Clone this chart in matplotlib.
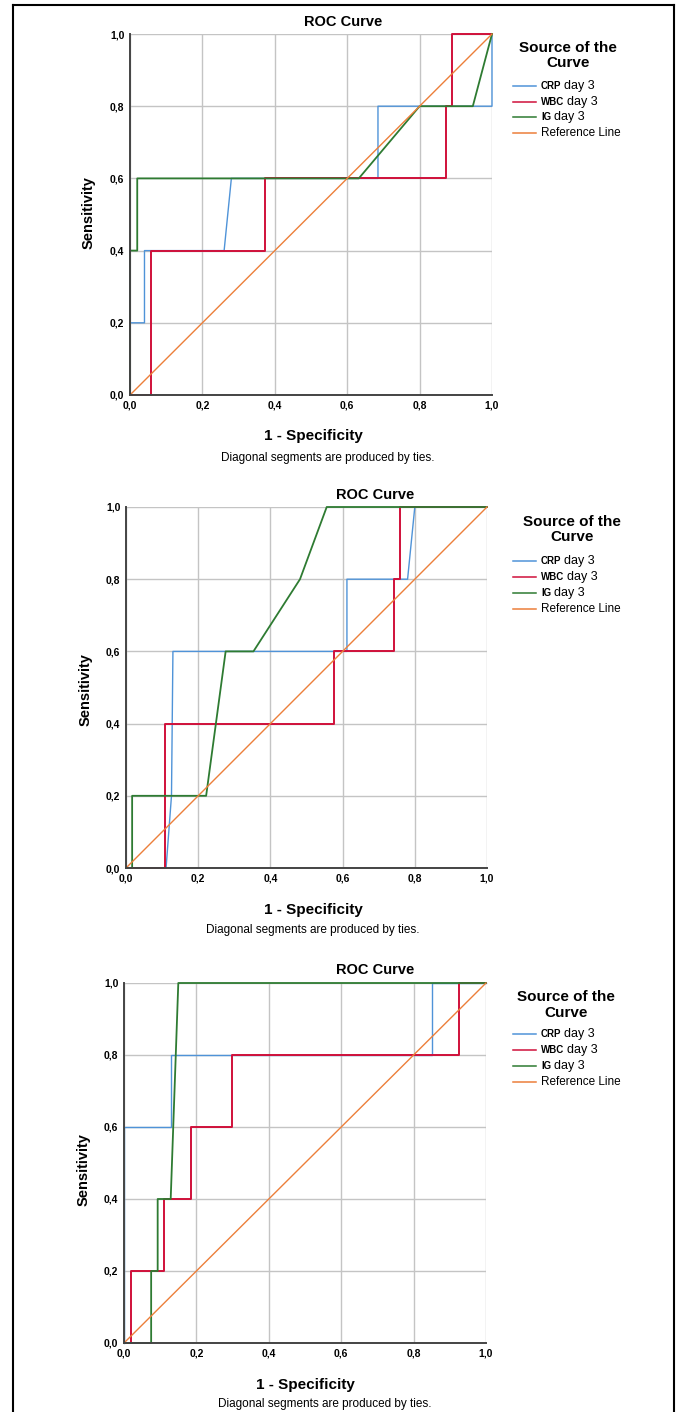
import matplotlib
matplotlib.use('Agg')
import matplotlib.pyplot as plt
from matplotlib.lines import Line2D

plt.rcParams['font.family'] = ['Liberation Sans Narrow', 'Liberation Sans', 'DejaVu Sans']

# 資料 (1 - Specificity, Sensitivity)
crp1_x = [0, 0, 0.04, 0.04, 0.26, 0.28, 0.685, 0.685, 1.0, 1.0]
crp1_y = [0, 0.2, 0.2, 0.4, 0.4, 0.6, 0.6, 0.8, 0.8, 1.0]
wbc1_x = [0, 0.057, 0.057, 0.372, 0.372, 0.872, 0.872, 0.889, 0.889, 1.0]
wbc1_y = [0, 0, 0.4, 0.4, 0.6, 0.6, 0.8, 0.8, 1.0, 1.0]
ig1_x = [0, 0, 0.02, 0.02, 0.632, 0.8, 0.947, 1.0]
ig1_y = [0, 0.4, 0.4, 0.6, 0.6, 0.8, 0.8, 1.0]

crp2_x = [0, 0.111, 0.126, 0.13, 0.612, 0.612, 0.78, 0.80, 1.0]
crp2_y = [0, 0, 0.2, 0.6, 0.6, 0.8, 0.8, 1.0, 1.0]
wbc2_x = [0, 0.109, 0.109, 0.575, 0.575, 0.743, 0.743, 0.76, 0.76, 1.0]
wbc2_y = [0, 0, 0.4, 0.4, 0.6, 0.6, 0.8, 0.8, 1.0, 1.0]
ig2_x = [0, 0.017, 0.017, 0.222, 0.276, 0.353, 0.482, 0.556, 1.0]
ig2_y = [0, 0, 0.2, 0.2, 0.6, 0.6, 0.8, 1.0, 1.0]

crp3_x = [0, 0, 0.13, 0.13, 0.852, 0.852, 1.0]
crp3_y = [0, 0.6, 0.6, 0.8, 0.8, 1.0, 1.0]
wbc3_x = [0, 0.019, 0.019, 0.111, 0.111, 0.185, 0.185, 0.297, 0.297, 0.926, 0.926, 1.0]
wbc3_y = [0, 0, 0.2, 0.2, 0.4, 0.4, 0.6, 0.6, 0.8, 0.8, 1.0, 1.0]
ig3_x = [0, 0.075, 0.075, 0.093, 0.093, 0.129, 0.15, 1.0]
ig3_y = [0, 0, 0.2, 0.2, 0.4, 0.4, 1.0, 1.0]

ref_x = [0, 1]
ref_y = [0, 1]

ticks = [0, 0.2, 0.4, 0.6, 0.8, 1.0]
tick_labels = ['0,0', '0,2', '0,4', '0,6', '0,8', '1,0']

legend_names = ['CRP', 'WBC', 'IG']
legend_suffix = 'day 3'

colors = {'CRP': '#4f93d8', 'WBC': '#d0103a', 'IG': '#2e7b32', 'ref': '#ec7f3a'}

W, H = 680, 1412
fig = plt.figure(figsize=(W / 100, H / 100), dpi=100)


def fx(px):
    return px / W


def fy(py):
    return 1 - py / H


# 每個面板的像素位置: 軸框, 標題, 標籤, 圖例
panels = [
    dict(box=(130, 34, 492, 395), title=(343, 22), ylab=(89, 213), xlab=(313, 436), note=(328, 458),
         head=(568, 48, 63), items=[86, 102, 117, 133],
         data=[(crp1_x, crp1_y), (wbc1_x, wbc1_y), (ig1_x, ig1_y)]),
    dict(box=(126, 507, 487, 868), title=(375, 495), ylab=(86, 690), xlab=(313, 910), note=(313, 930),
         head=(572, 522, 537), items=[561, 577, 593, 609],
         data=[(crp2_x, crp2_y), (wbc2_x, wbc2_y), (ig2_x, ig2_y)]),
    dict(box=(124, 983, 486, 1343), title=(375, 970), ylab=(84, 1170), xlab=(305, 1385), note=(325, 1404),
         head=(566, 997, 1013), items=[1034, 1050, 1066, 1082],
         data=[(crp3_x, crp3_y), (wbc3_x, wbc3_y), (ig3_x, ig3_y)]),
]

for p in panels:
    x0, y0, x1, y1 = p['box']
    ax = fig.add_axes([fx(x0), fy(y1), (x1 - x0) / W, (y1 - y0) / H])
    ax.set_xlim(0, 1)
    ax.set_ylim(0, 1)
    ax.set_xticks(ticks)
    ax.set_yticks(ticks)
    ax.set_xticklabels(tick_labels, fontsize=7.5, fontweight='bold')
    ax.set_yticklabels(tick_labels, fontsize=7.5, fontweight='bold')
    ax.tick_params(length=0, pad=4)
    ax.grid(color='#c4c4c4', linewidth=1.0)
    ax.set_axisbelow(True)
    for s in ['top', 'right']:
        ax.spines[s].set_visible(False)
    for s in ['left', 'bottom']:
        ax.spines[s].set_color('#444444')
        ax.spines[s].set_linewidth(1.4)

    (cx, cy), (wx, wy), (gx, gy) = p['data']
    ax.plot(cx, cy, color=colors['CRP'], lw=1.0, clip_on=False)
    ax.plot(wx, wy, color=colors['WBC'], lw=1.4, clip_on=False)
    ax.plot(gx, gy, color=colors['IG'], lw=1.3, clip_on=False)
    ax.plot(ref_x, ref_y, color=colors['ref'], lw=1.0, clip_on=False)

    fig.text(fx(p['title'][0]), fy(p['title'][1]), 'ROC Curve', fontsize=10.5, fontweight='bold',
             ha='center', va='center')
    fig.text(fx(p['ylab'][0]), fy(p['ylab'][1]), 'Sensitivity', fontsize=10.5, fontweight='bold',
             ha='center', va='center', rotation=90)
    fig.text(fx(p['xlab'][0]), fy(p['xlab'][1]), '1 - Specificity', fontsize=11, fontweight='bold',
             ha='center', va='center')
    fig.text(fx(p['note'][0]), fy(p['note'][1]), 'Diagonal segments are produced by ties.', fontsize=8.5,
             ha='center', va='center')

    # 圖例
    hx, hy1, hy2 = p['head']
    fig.text(fx(hx), fy(hy1), 'Source of the', fontsize=11, fontweight='bold', ha='center', va='center')
    fig.text(fx(hx), fy(hy2), 'Curve', fontsize=11, fontweight='bold', ha='center', va='center')
    keys = legend_names + ['ref']
    for k, iy in zip(keys, p['items']):
        fig.add_artist(Line2D([fx(513), fx(536)], [fy(iy), fy(iy)], color=colors[k], lw=1.1))
        if k == 'ref':
            fig.text(fx(541), fy(iy), 'Reference Line', fontsize=8.5, va='center')
        else:
            t = fig.text(fx(541), fy(iy), k, fontsize=7, fontweight='bold', va='center')
            plt.annotate(legend_suffix, xy=(1, 0.5), xycoords=t, xytext=(2, 0), textcoords='offset points',
                         fontsize=9, va='center')

# 外框
fig.add_artist(Line2D([fx(13), fx(13)], [0, fy(5)], color='black', lw=1.5))
fig.add_artist(Line2D([fx(13), fx(674)], [fy(5), fy(5)], color='black', lw=1.5))
fig.add_artist(Line2D([fx(674), fx(674)], [fy(5), 0], color='black', lw=1.5))

plt.savefig('out.png', dpi=100)
